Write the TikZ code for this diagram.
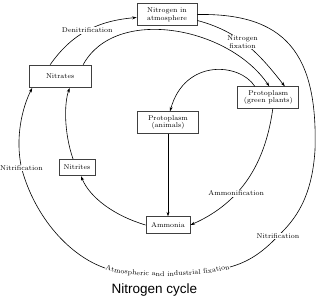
\documentclass[tikz,border=0pt]{standalone}
\usepackage{fontspec}
\usepackage{tikz}
\usetikzlibrary{arrows.meta,decorations.text}
\newfontfamily\titlesans{Liberation Sans}
\newcommand{\cyclefont}{\fontsize{7}{7.8}\selectfont}

\begin{document}
\begin{tikzpicture}[x=1pt,y=1pt,line width=0.6pt,>={Stealth[length=4.5pt,width=3pt]},
    box/.style={draw=black!75,line width=0.8pt,fill=white,align=center,inner sep=1pt,font=\cyclefont},
    lbl/.style={fill=white,inner sep=0.8pt,align=center,font=\cyclefont}]
      \useasboundingbox (0,0) rectangle (320,298);
      \node[box,minimum width=60pt,minimum height=22pt] (atm) at (167,283.5) {Nitrogen in\\atmosphere};
      \node[box,minimum width=61.5pt,minimum height=22.5pt] (nitrates) at (60.2,221.7) {Nitrates};
      \node[box,minimum width=61pt,minimum height=21.5pt] (green) at (268.3,200.5) {Protoplasm\\(green plants)};
      \node[box,minimum width=61pt,minimum height=21.5pt] (animals) at (168,175.5) {Protoplasm\\(animals)};
      \node[box,minimum width=36pt,minimum height=16.5pt] (nitrites) at (77,130.5) {Nitrites};
      \node[box,minimum width=44pt,minimum height=16.5pt] (ammonia) at (168,73) {Ammonia};

      \coordinate (fixL) at (105,30);
      \coordinate (fixR) at (230,31);

      \draw[->] ([xshift=-10pt]nitrates.north) to[out=55,in=185] node[lbl] {Denitrification} ([yshift=-3pt]atm.west);
      \draw[->] ([yshift=-6pt]atm.east) to[out=-15,in=128] node[lbl,pos=0.45] {Nitrogen\\fixation} ([xshift=16.5pt]green.north);
      \draw[->] ([xshift=23pt]nitrates.north) .. controls (115,292) and (228,272) .. ([xshift=1pt]green.north);
      \draw[->] ([xshift=-13.5pt]green.north) .. controls (240,235) and (185,240) .. ([xshift=2pt]animals.north);
      \draw[->] (animals) -- (ammonia);
      \draw[->] ([xshift=4.5pt]green.south) .. controls (266,140) and (245,97) .. node[lbl,pos=0.65] {Ammonification} (ammonia.east);
      \draw[->] (ammonia.west) .. controls (115,82) and (90,100) .. ([xshift=4pt]nitrites.south);
      \draw[->] ([xshift=-4pt]nitrites.north) .. controls (64,165) and (64,195) .. ([xshift=9.5pt]nitrates.south);

      % outer loop, broken by the fixation text at the bottom
      \draw[->] (atm.east) .. controls (285,285) and (318,245) .. (315,148)
        .. controls (312,100) and (295,78) .. (278,62) node[lbl] {Nitrification}
        .. controls (262,45) and (248,36) .. (fixR)
        (fixL) .. controls (70,42) and (35,80) .. (21.5,130) node[lbl] {Nitrification}
        .. controls (15,160) and (22,190) .. ([xshift=-28pt]nitrates.south);
      \path[decorate,decoration={text along path,text align=center,raise=-1.8pt,
        text={|\cyclefont|Atmospheric and industrial fixation}}]
        (fixL) .. controls (135,21) and (200,22) .. (fixR);

      \node[font=\titlesans\fontsize{13.5}{15}\selectfont,anchor=base] (title) at (154.5,4.7) {Nitrogen cycle};
\end{tikzpicture}
\end{document}
